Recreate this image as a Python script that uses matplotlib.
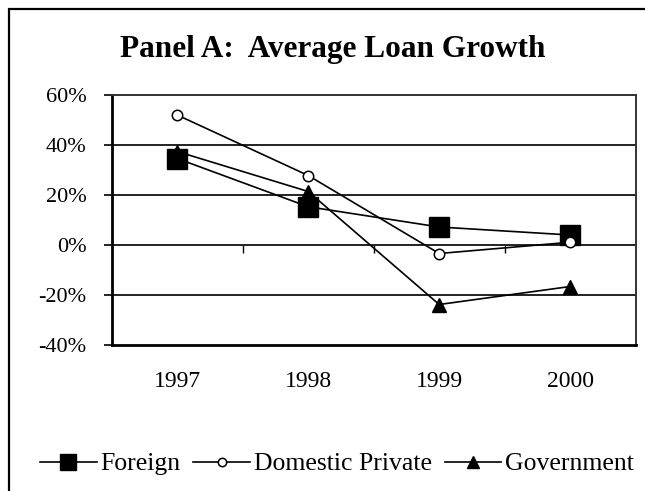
import matplotlib
matplotlib.use("Agg")
import matplotlib.pyplot as plt
from matplotlib.patches import Rectangle
from matplotlib.ticker import FuncFormatter, FixedLocator

years = ["1997", "1998", "1999", "2000"]
foreign = [34.6, 15.3, 7.2, 4.0]
domestic_private = [52.0, 27.8, -3.4, 1.1]
government = [37.4, 21.4, -23.8, -16.6]
y_ticks = [-40, -20, 0, 20, 40, 60]

plt.rcParams["font.family"] = ["Liberation Serif", "DejaVu Serif"]

fig = plt.figure(figsize=(6.45, 4.91), dpi=100)
ax = fig.add_axes([111.7 / 645, 1 - 345 / 491, (635.7 - 111.7) / 645, (345 - 95) / 491])

# outer chart border (cropped on right and bottom)
fig.patches.append(Rectangle((9 / 645, -0.2), 1.2, 1.2 - 9 / 491, transform=fig.transFigure,
                             fill=False, edgecolor="black", linewidth=1.6, zorder=0))

x = list(range(len(years)))
ax.plot(x, foreign, color="black", lw=1.2, marker="s", ms=15, mfc="black", mec="black", zorder=3, label="Foreign")
ax.plot(x, domestic_private, color="black", lw=1.2, marker="o", ms=7.5, mfc="white", mec="black", mew=1.1, zorder=4,
        label="Domestic Private")
ax.plot(x, government, color="black", lw=1.2, marker="^", ms=10, mfc="black", mec="black", zorder=3, label="Government")

ax.set_xlim(-0.5, len(years) - 0.5)
ax.set_ylim(y_ticks[0], y_ticks[-1])
ax.set_yticks(y_ticks)
ax.yaxis.set_major_formatter(FuncFormatter(lambda v, p: f"{v:.0f}%"))
ax.tick_params(axis="y", direction="out", length=6, width=1.2, pad=12, labelsize=16)

ax.set_xticks(x)
ax.set_xticklabels(years)
ax.tick_params(axis="x", length=0, pad=19, labelsize=17)

for yv in y_ticks[1:-1]:
    ax.axhline(yv, color="#222222", lw=1.4, zorder=1)

for side in ["top", "right"]:
    ax.spines[side].set_color("#333333")
    ax.spines[side].set_linewidth(1.4)
for side in ["left", "bottom"]:
    ax.spines[side].set_color("black")
    ax.spines[side].set_linewidth(2.0)

# category-boundary tick marks on the zero line
frac0 = (0 - y_ticks[0]) / (y_ticks[-1] - y_ticks[0])
sec = ax.secondary_xaxis(frac0)
sec.xaxis.set_major_locator(FixedLocator([i + 0.5 for i in x[:-1]]))
sec.tick_params(axis="x", direction="out", length=6, width=1.0, labelbottom=False, labeltop=False,
                bottom=True, top=False)
sec.spines["bottom"].set_visible(False)
sec.spines["top"].set_visible(False)

fig.text(333 / 645, 1 - 49 / 491, "Panel A:  Average Loan Growth", ha="center", va="center",
         fontsize=22.5, fontweight="bold")

fig.legend(loc="center", bbox_to_anchor=(337 / 645, 1 - 464 / 491), ncol=3, frameon=False,
           fontsize=18.5, handlelength=2.2, handletextpad=0.15, columnspacing=0.5, markerscale=0.8)

fig.savefig("out.png", dpi=100)
